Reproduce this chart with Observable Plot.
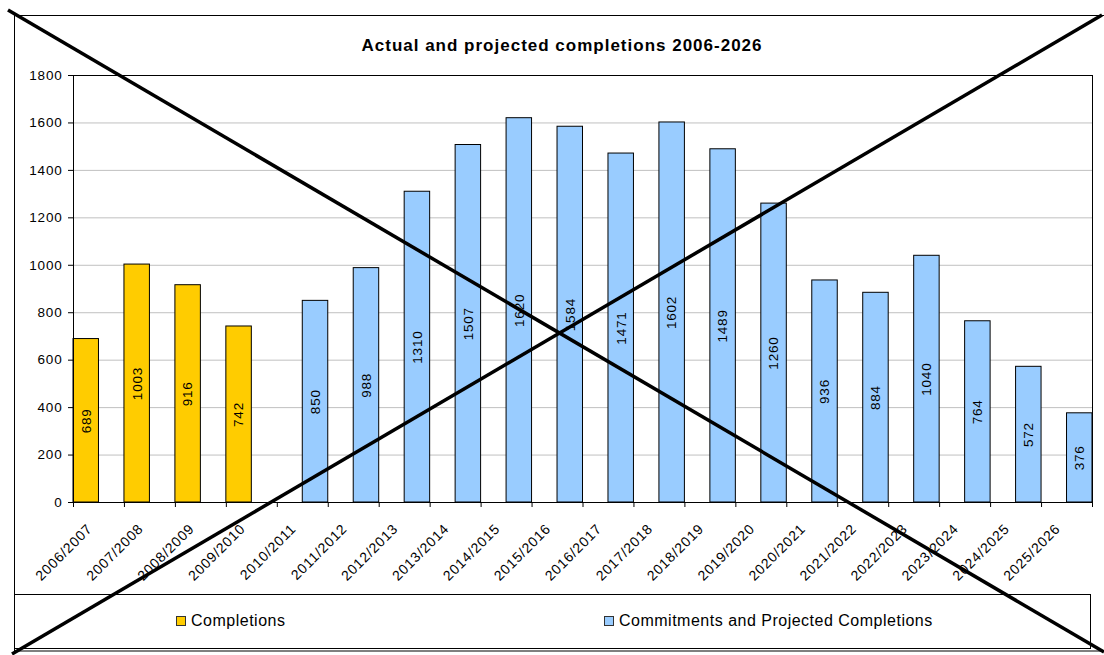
<!DOCTYPE html>
<html>
<head>
<meta charset="utf-8">
<script src="https://cdn.jsdelivr.net/npm/d3@7"></script>
<script src="https://cdn.jsdelivr.net/npm/@observablehq/plot@0.6"></script>
<style>
  html, body { margin: 0; padding: 0; background: #fff; }
  #wrap { position: relative; width: 1104px; height: 655px; overflow: hidden; background: #fff; font-family: "Liberation Sans", Arial, sans-serif; }
  #title { position: absolute; left: 0; width: 1124px; top: 37px; text-align: center; font-weight: bold; font-size: 17px; line-height: 17px; letter-spacing: 1px; color: #000; }
  #chart { position: absolute; left: 0; top: 60px; }
  .leg { position: absolute; font-size: 16px; line-height: 16px; color: #000; white-space: nowrap; letter-spacing: 0.5px; }
  .key { position: absolute; width: 8px; height: 8px; border: 1px solid #333; }
  #deco { position: absolute; left: 0; top: 0; pointer-events: none; }
</style>
</head>
<body>
<div id="wrap">
  <svg id="deco0" width="1104" height="655" style="position:absolute;left:0;top:0">
    <rect x="14.5" y="15.5" width="1100" height="635.5" fill="none" stroke="#000" stroke-width="1"></rect>
    <rect x="14.5" y="594.5" width="1076" height="54" fill="none" stroke="#000" stroke-width="1"></rect>
  </svg>
  <div id="title">Actual and projected completions 2006-2026</div>
  <div id="chart"></div>
  <div class="key" style="left:176px;top:616px;background:#FFCC00"></div>
  <div class="leg" style="left:191px;top:613px">Completions</div>
  <div class="key" style="left:604px;top:616px;background:#99CCFF"></div>
  <div class="leg" style="left:619px;top:613px">Commitments and Projected Completions</div>
  <svg id="deco" width="1104" height="655">
    <line x1="8" y1="10" x2="1104" y2="652" stroke="#000" stroke-width="3.5"></line>
    <line x1="1102" y1="15" x2="12" y2="654" stroke="#000" stroke-width="3.5"></line>
  </svg>
</div>
<script>
const categories = ["2006/2007","2007/2008","2008/2009","2009/2010","2010/2011","2011/2012","2012/2013","2013/2014","2014/2015","2015/2016","2016/2017","2017/2018","2018/2019","2019/2020","2020/2021","2021/2022","2022/2023","2023/2024","2024/2025","2025/2026"];
const completions = [689, 1003, 916, 742, null, null, null, null, null, null, null, null, null, null, null, null, null, null, null, null];
const commitments = [null, null, null, null, 850, 988, 1310, 1507, 1620, 1584, 1471, 1602, 1489, 1260, 936, 884, 1040, 764, 572, 376];
const yTicks = [0, 200, 400, 600, 800, 1000, 1200, 1400, 1600, 1800];
const seriesColors = {completions: "#FFCC00", commitments: "#99CCFF"};

const rows = categories.map((cat, i) => ({cat, i, completions: completions[i], commitments: commitments[i]}));
const compRows = rows.filter(d => d.completions != null);
const commRows = rows.filter(d => d.commitments != null);

const plot = Plot.plot({
  width: 1104,
  height: 530,
  marginLeft: 73,
  marginRight: 12,
  marginTop: 15,
  marginBottom: 88,
  style: {fontFamily: "'Liberation Sans', Arial, sans-serif", fontSize: "13.5px", letterSpacing: "0.8px", background: "transparent", color: "#000"},
  x: {domain: [0, categories.length], ticks: d3.range(categories.length + 1), tickFormat: () => "", tickSize: 5, label: null},
  y: {domain: [0, 1800], ticks: yTicks, tickFormat: d => String(d), tickSize: 5, tickPadding: 6, label: null},
  marks: [
    Plot.ruleY(yTicks.slice(1, -1), {stroke: "#c0c0c0", strokeWidth: 1}),
    Plot.rect(compRows, {x1: "i", x2: d => d.i + 0.5, y1: 0, y2: "completions", fill: seriesColors.completions, stroke: "#000", strokeWidth: 1}),
    Plot.rect(commRows, {x1: d => d.i + 0.5, x2: d => d.i + 1, y1: 0, y2: "commitments", fill: seriesColors.commitments, stroke: "#000", strokeWidth: 1}),
    Plot.text(compRows, {x: d => d.i + 0.25, y: d => d.completions / 2, text: d => String(d.completions), rotate: -90, fontSize: 13.5, fill: "#000"}),
    Plot.text(commRows, {x: d => d.i + 0.75, y: d => d.commitments / 2, text: d => String(d.commitments), rotate: -90, fontSize: 13.5, fill: "#000"}),
    Plot.text(rows, {x: d => d.i + 0.5, y: 0, text: "cat", rotate: -45, textAnchor: "end", dx: -9, dy: 24, fontSize: 14, fill: "#000"}),
    Plot.frame({stroke: "#000", strokeWidth: 1})
  ]
});
document.getElementById("chart").appendChild(plot);
</script>
</body>
</html>
